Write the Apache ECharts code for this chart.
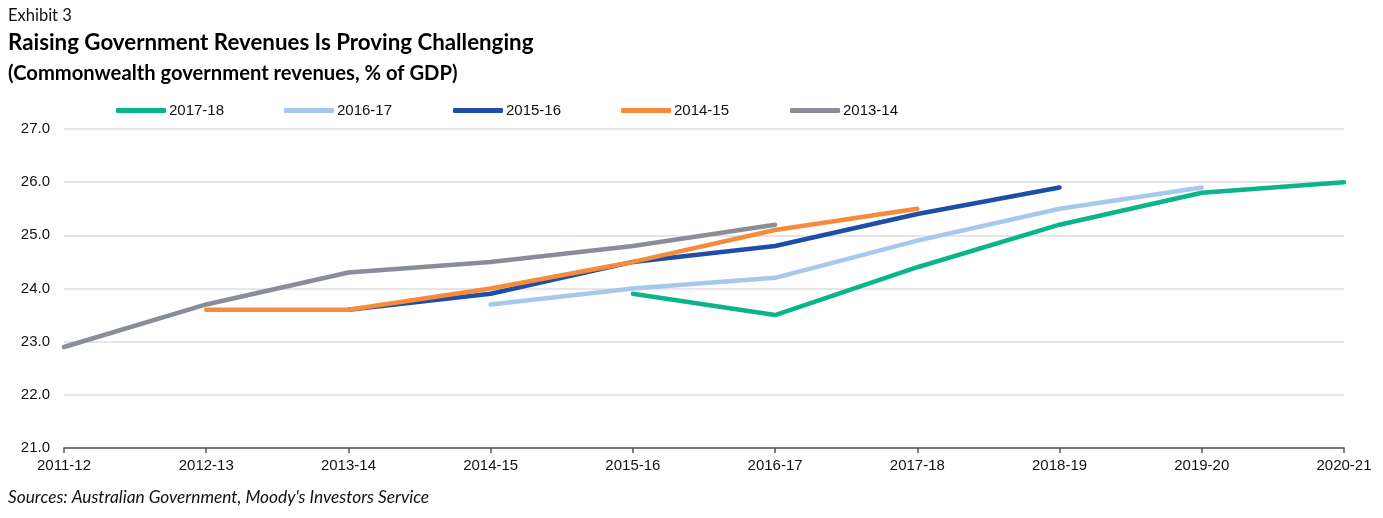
<!DOCTYPE html>
<html>
<head>
<meta charset="utf-8">
<script src="https://cdn.jsdelivr.net/npm/echarts@6/dist/echarts.min.js"></script>
<style>
html,body{margin:0;padding:0;background:#fff;}
#chart{width:1383px;height:518px;}
</style>
</head>
<body>
<div id="chart"></div>
<script>
const categories = ['2011-12','2012-13','2013-14','2014-15','2015-16','2016-17','2017-18','2018-19','2019-20','2020-21'];
const s2017_18 = [null, null, null, null, 23.9, 23.5, 24.4, 25.2, 25.8, 26.0];
const s2016_17 = [null, null, null, 23.7, 24.0, 24.2, 24.9, 25.5, 25.9, null];
const s2015_16 = [null, null, 23.6, 23.9, 24.5, 24.8, 25.4, 25.9, null, null];
const s2014_15 = [null, 23.6, 23.6, 24.0, 24.5, 25.1, 25.5, null, null, null];
const s2013_14 = [22.9, 23.7, 24.3, 24.5, 24.8, 25.2, null, null, null, null];
const seriesNames = ['2017-18','2016-17','2015-16','2014-15','2013-14'];
const seriesData = [s2017_18, s2016_17, s2015_16, s2014_15, s2013_14];
const colors = ['#0bb48a','#a5c9ec','#1f4ea9','#f68b3b','#898d99'];
const legendLeft = [116, 284, 453, 621, 790];

const chart = echarts.init(document.getElementById('chart'));
const font = 'Liberation Sans, Arial, sans-serif';
const titleFont = 'Lato, "Noto Sans", sans-serif';

const option = {
  animation: false,
  color: colors,
  graphic: [
    {type:'text', left: 8, top: 7, style:{text:'Exhibit 3', font:'16.5px ' + titleFont, fill:'#111'}},
    {type:'text', left: 8, top: 32, style:{text:'Raising Government Revenues Is Proving Challenging', font:'bold 22.3px ' + titleFont, fill:'#000'}},
    {type:'text', left: 8, top: 63, style:{text:'(Commonwealth government revenues, % of GDP)', font:'bold 20.2px ' + titleFont, fill:'#000'}},
    {type:'text', left: 8, top: 489, style:{text:"Sources: Australian Government, Moody's Investors Service", font:'italic 17.3px ' + titleFont, fill:'#111'}}
  ],
  legend: seriesNames.map((n, i) => ({
    data: [n],
    left: legendLeft[i],
    top: 103,
    icon: 'roundRect',
    itemWidth: 50,
    itemHeight: 5,
    itemGap: 0,
    textStyle: {fontFamily: font, fontSize: 15, color: '#111', padding: [0,0,0,-2]},
    padding: 0
  })),
  grid: {left: 64, right: 39, top: 129, bottom: 70, containLabel: false},
  xAxis: {
    type: 'category',
    data: categories,
    boundaryGap: false,
    axisLine: {lineStyle: {color: '#555', width: 1.5}},
    axisTick: {alignWithLabel: true, length: 5, lineStyle: {color: '#555', width: 1.5}},
    axisLabel: {fontFamily: font, fontSize: 15, color: '#111', margin: 10},
    splitLine: {show: false}
  },
  yAxis: {
    type: 'value',
    min: 21, max: 27, interval: 1,
    axisLine: {show: false},
    axisTick: {show: false},
    axisLabel: {fontFamily: font, fontSize: 15, color: '#111', margin: 14, formatter: v => v.toFixed(1)},
    splitLine: {lineStyle: {color: '#dedede', width: 1.5}}
  },
  series: seriesNames.map((n, i) => ({
    name: n,
    type: 'line',
    data: seriesData[i],
    showSymbol: false,
    symbol: 'none',
    lineStyle: {width: 4.5, color: colors[i], cap: 'round', join: 'round'},
    itemStyle: {color: colors[i]},
    z: 2 + i
  }))
};
chart.setOption(option);
</script>
</body>
</html>
